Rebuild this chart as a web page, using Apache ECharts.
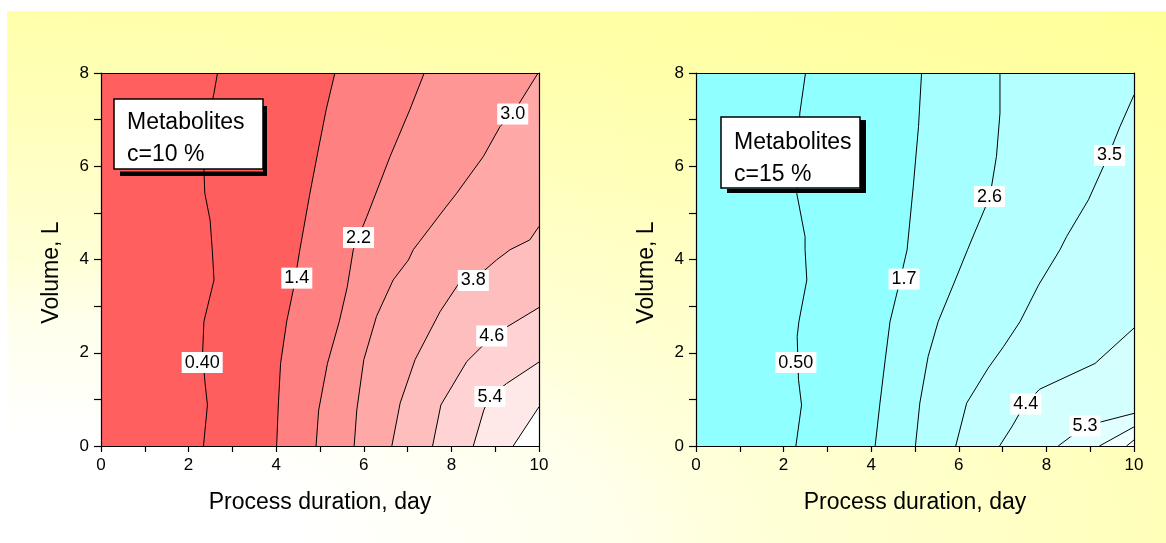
<!DOCTYPE html>
<html>
<head>
<meta charset="utf-8">
<script src="https://cdn.jsdelivr.net/npm/echarts@6/dist/echarts.min.js"></script>
<style>
html,body{margin:0;padding:0;background:#fff;}
#chart{width:1166px;height:543px;}
</style>
</head>
<body>
<div id="chart"></div>
<script>
// ---------- data ----------
const xTicks = [0, 2, 4, 6, 8, 10];
const yTicks = [0, 2, 4, 6, 8];
const xName = 'Process duration, day';
const yName = 'Volume, L';

// Left panel (c = 10 %) contour lines, [day, L]
const leftC1 = [[2.34,0],[2.43,0.88],[2.37,1.4],[2.32,2.0],[2.35,2.67],[2.58,3.56],[2.54,4.21],[2.49,4.85],[2.37,5.42],[2.35,5.9],[2.45,7.0],[2.58,7.57],[2.66,8]];
const leftC2 = [[4.01,0],[4.05,0.9],[4.10,1.77],[4.24,2.67],[4.39,3.35],[4.54,4.21],[4.77,5.42],[4.95,6.3],[5.14,7.21],[5.34,8]];
const leftC3 = [[4.91,0],[4.97,0.77],[5.17,1.77],[5.44,2.67],[5.62,3.4],[5.76,4.21],[5.87,4.46],[6.07,4.92],[6.35,5.6],[6.60,6.21],[7.05,7.21],[7.38,8]];
const leftC4 = [[5.78,0],[5.84,0.77],[6.0,1.85],[6.29,2.78],[6.67,3.56],[7.02,3.99],[7.13,4.21],[7.82,5.06],[8.12,5.42],[8.73,6.21],[9.11,6.85],[9.41,7.14],[9.98,8]];
const leftC5 = [[6.64,0],[6.83,0.92],[7.17,1.85],[7.74,2.88],[8.20,3.53],[8.50,3.56],[9.03,3.99],[9.34,4.21],[9.79,4.42],[10,4.71]];
const leftC6 = [[7.57,0],[7.76,0.88],[8.35,1.81],[8.96,2.38],[10,2.97]];
const leftC7 = [[8.50,0],[8.74,0.77],[8.88,1.06],[9.26,1.34],[10,1.80]];
const leftC8 = [[9.41,0],[10,0.84]];
const leftContours = [leftC1, leftC2, leftC3, leftC4, leftC5, leftC6, leftC7, leftC8];
const leftLabels = [[2.31,1.79,'0.40'],[4.47,3.60,'1.4'],[5.88,4.47,'2.2'],[9.40,7.12,'3.0'],[8.50,3.55,'3.8'],[8.92,2.36,'4.6'],[8.88,1.06,'5.4']];

// Right panel (c = 15 %) contour lines, [day, L]
const rightC1 = [[2.28,0],[2.41,0.88],[2.34,1.42],[2.31,2.35],[2.35,2.67],[2.53,3.56],[2.49,4.21],[2.49,4.49],[2.30,5.42],[2.37,7.14],[2.50,8]];
const rightC2 = [[4.09,0],[4.20,0.92],[4.32,1.85],[4.43,2.67],[4.66,3.56],[4.82,4.21],[4.96,5.56],[5.08,6.85],[5.15,8]];
const rightC3 = [[5.01,0],[5.11,0.92],[5.30,1.92],[5.53,2.67],[5.92,3.56],[6.20,4.21],[6.35,4.55],[6.71,5.35],[6.86,6.21],[6.94,7.14],[6.94,8]];
const rightC4 = [[5.93,0],[6.18,0.92],[6.67,1.67],[7.02,2.13],[7.40,2.67],[7.82,3.45],[8.31,4.21],[8.46,4.49],[8.96,5.28],[9.41,6.22],[9.68,6.85],[10,7.53]];
const rightC5 = [[6.93,0],[7.21,0.41],[7.51,0.90],[7.85,1.22],[9.11,1.77],[10,2.53]];
const rightC6 = [[8.27,0],[8.61,0.24],[8.88,0.43],[9.26,0.52],[10,0.70]];
const rightC7 = [[9.21,0],[10,0.41]];
const rightC8 = [[9.83,0],[10,0.13]];
const rightContours = [rightC1, rightC2, rightC3, rightC4, rightC5, rightC6, rightC7, rightC8];
const rightLabels = [[2.28,1.79,'0.50'],[4.75,3.58,'1.7'],[6.70,5.35,'2.6'],[9.44,6.23,'3.5'],[7.53,0.90,'4.4'],[8.88,0.43,'5.3']];

const leftTitle = ['Metabolites', 'c=10 %'];
const rightTitle = ['Metabolites', 'c=15 %'];

// ---------- styles ----------
const leftFill = ['#FF5F5F','#FF5E5E','#FF8080','#FF9696','#FFA8A8','#FFBEBE','#FFD3D3','#FFE8E8','#FFFFFF'];
const rightFill = ['#8FFFFF','#90FFFF','#A6FFFF','#B4FFFF','#C3FFFF','#D3FFFF','#E2FFFF','#F0FFFF','#FFFFFF'];
const FONT = '"Liberation Sans", Arial, sans-serif';

const chart = echarts.init(document.getElementById('chart'), null, {renderer: 'canvas'});

function bandRender(contours, fills) {
  return function (params, api) {
    const i = api.value(0);
    let pts;
    if (i < 0) {
      pts = [[0,0],[0,8],[10,8],[10,0]];
    } else {
      const c = contours[i];
      pts = c.slice();
      const last = c[c.length - 1];
      if (last[1] >= 8 && last[0] < 10) pts.push([10, 8]);
      pts.push([10, 0]);
    }
    return {
      type: 'polygon',
      shape: {points: pts.map(p => api.coord(p))},
      style: {fill: fills[i + 1], stroke: null}
    };
  };
}

function labelRender(labels) {
  return function (params, api) {
    const item = labels[params.dataIndex];
    const p = api.coord([item[0], item[1]]);
    return {
      type: 'text', x: p[0], y: p[1], z2: 10,
      style: {
        text: item[2], fill: '#000', font: '18px ' + FONT,
        align: 'center', verticalAlign: 'middle',
        backgroundColor: '#fff', padding: [2, 3, 1, 3]
      }
    };
  };
}

function mainX(gi) {
  return {
    type: 'value', gridIndex: gi, min: 0, max: 10, interval: 2,
    name: xName, nameLocation: 'middle', nameGap: 45,
    nameTextStyle: {fontFamily: FONT, fontSize: 23, color: '#000'},
    axisLine: {onZero: false, lineStyle: {color: '#000', width: 1.2}},
    axisTick: {show: true, inside: false, length: 6, lineStyle: {color: '#000', width: 1.2}},
    minorTick: {show: true, splitNumber: 2, length: 6, lineStyle: {color: '#000', width: 1.2}},
    axisLabel: {fontFamily: FONT, fontSize: 17, color: '#000', margin: 11},
    splitLine: {show: false}, minorSplitLine: {show: false}, z: 5
  };
}
function mainY(gi) {
  return {
    type: 'value', gridIndex: gi, min: 0, max: 8, interval: 2,
    name: yName, nameLocation: 'middle', nameGap: 38, nameRotate: 90,
    nameTextStyle: {fontFamily: FONT, fontSize: 23, color: '#000', padding: [0, 26, 0, 0]},
    axisLine: {onZero: false, lineStyle: {color: '#000', width: 1.2}},
    axisTick: {show: true, inside: false, length: 7, lineStyle: {color: '#000', width: 1.2}},
    minorTick: {show: true, splitNumber: 2, length: 7, lineStyle: {color: '#000', width: 1.2}},
    axisLabel: {fontFamily: FONT, fontSize: 17, color: '#000', margin: 12},
    splitLine: {show: false}, minorSplitLine: {show: false}, z: 5
  };
}
function frameAxis(gi, pos, max) {
  return {
    type: 'value', gridIndex: gi, position: pos, min: 0, max: max,
    axisLine: {show: true, onZero: false, lineStyle: {color: '#000', width: 1.2}},
    axisTick: {show: false}, axisLabel: {show: false}, splitLine: {show: false}, z: 5
  };
}

const series = [];
function addPanel(gi, contours, fills, labels) {
  const bandData = [[-1, 0]];
  contours.forEach((c, i) => bandData.push([i, 0]));
  series.push({
    type: 'custom', xAxisIndex: gi, yAxisIndex: gi, clip: true, z: 1,
    renderItem: bandRender(contours, fills), data: bandData, silent: true
  });
  contours.forEach(c => {
    series.push({
      type: 'line', xAxisIndex: gi, yAxisIndex: gi, data: c, symbol: 'none',
      lineStyle: {color: '#000', width: 1}, z: 3, silent: true
    });
  });
  series.push({
    type: 'custom', xAxisIndex: gi, yAxisIndex: gi, z: 10, silent: true,
    renderItem: labelRender(labels),
    data: labels.map(l => [l[0], l[1]])
  });
}
addPanel(0, leftContours, leftFill, leftLabels);
addPanel(1, rightContours, rightFill, rightLabels);

function legendBox(box, rBar, bBar, lines, tx, ty1, ty2) {
  return [
    {type: 'rect', shape: rBar, style: {fill: '#000'}, z: 100},
    {type: 'rect', shape: bBar, style: {fill: '#000'}, z: 100},
    {type: 'rect', shape: box, style: {fill: '#fff', stroke: '#000', lineWidth: 1.5}, z: 101},
    {type: 'text', x: tx, y: ty1, style: {text: lines[0], font: '23px ' + FONT, fill: '#000', textVerticalAlign: 'middle'}, z: 102},
    {type: 'text', x: tx, y: ty2, style: {text: lines[1], font: '23px ' + FONT, fill: '#000', textVerticalAlign: 'middle'}, z: 102}
  ];
}

const bgScaleX = 1500 / 560;
const background = {
  type: 'rect', x: 7, y: 11, scaleX: bgScaleX, scaleY: 1, z: -100, silent: true,
  shape: {x: 0, y: 0, width: 1159 / bgScaleX, height: 532},
  style: {
    fill: {
      type: 'radial', x: 0, y: 532, r: 683, global: true,
      colorStops: [
        {offset: 0, color: '#FFFFFF'},
        {offset: 0.16, color: '#FFFFFF'},
        {offset: 0.33, color: '#FFFFEC'},
        {offset: 0.41, color: '#FFFFD8'},
        {offset: 0.62, color: '#FFFFBC'},
        {offset: 0.78, color: '#FFFFAA'},
        {offset: 1, color: '#FFFF99'}
      ]
    }
  }
};

const graphics = [background]
  .concat(legendBox({x: 114, y: 99, width: 149, height: 70},
                    {x: 263, y: 106, width: 4, height: 70},
                    {x: 120, y: 171.5, width: 147, height: 4.5},
                    leftTitle, 127, 123, 155))
  .concat(legendBox({x: 721, y: 117, width: 139, height: 71},
                    {x: 860, y: 120, width: 6, height: 72},
                    {x: 727, y: 189, width: 139, height: 4},
                    rightTitle, 734, 143, 175));

const option = {
  animation: false,
  backgroundColor: 'transparent',
  graphic: {elements: graphics},
  grid: [
    {left: 101, top: 73, width: 438, height: 373, containLabel: false},
    {left: 696, top: 73, width: 438, height: 373, containLabel: false}
  ],
  xAxis: [mainX(0), mainX(1), frameAxis(0, 'top', 10), frameAxis(1, 'top', 10)],
  yAxis: [mainY(0), mainY(1), frameAxis(0, 'right', 8), frameAxis(1, 'right', 8)],
  series: series
};
chart.setOption(option);
</script>
</body>
</html>
